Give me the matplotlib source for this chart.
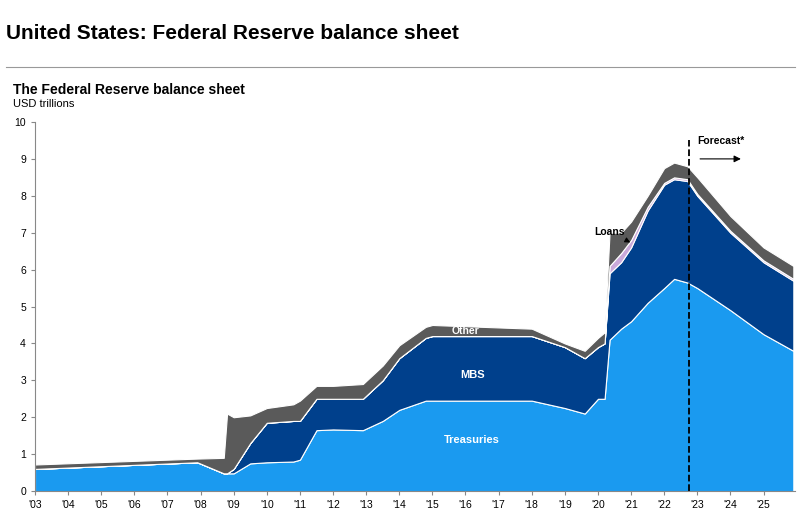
import numpy as np
import matplotlib.pyplot as plt

plt.rcParams['font.family'] = ['Liberation Sans', 'DejaVu Sans']

years = [2003.0, 2007.9, 2008.7, 2008.8, 2009.0, 2009.5, 2010.0, 2010.8, 2011.0, 2011.5,
         2012.0, 2012.9, 2013.5, 2014.0, 2014.8, 2015.0, 2018.0, 2019.0, 2019.6, 2020.0,
         2020.2, 2020.35, 2020.7, 2021.0, 2021.5, 2022.0, 2022.3, 2022.7, 2023.0, 2024.0,
         2025.0, 2025.9]
treasuries = [0.6, 0.78, 0.48, 0.48, 0.48, 0.75, 0.78, 0.8, 0.85, 1.65,
              1.67, 1.65, 1.9, 2.2, 2.45, 2.45, 2.45, 2.25, 2.1, 2.5,
              2.5, 4.1, 4.4, 4.6, 5.1, 5.5, 5.75, 5.65, 5.5, 4.9,
              4.25, 3.8]
mbs = [0, 0, 0, 0, 0.12, 0.55, 1.07, 1.1, 1.05, 0.85,
       0.83, 0.85, 1.1, 1.4, 1.7, 1.75, 1.75, 1.65, 1.5, 1.4,
       1.5, 1.8, 1.8, 2.0, 2.5, 2.8, 2.7, 2.75, 2.5, 2.1,
       1.95, 1.9]
loans = [0, 0, 0, 0, 0, 0, 0, 0, 0, 0,
         0, 0, 0, 0, 0, 0, 0, 0, 0, 0,
         0, 0.2, 0.25, 0.2, 0.1, 0.05, 0.05, 0.05, 0.05, 0.05,
         0.05, 0.05]
other = [0.12, 0.1, 0.42, 1.62, 1.4, 0.75, 0.4, 0.45, 0.55, 0.35,
         0.35, 0.4, 0.4, 0.35, 0.3, 0.3, 0.2, 0.1, 0.2, 0.25,
         0.3, 0.9, 0.55, 0.5, 0.3, 0.4, 0.4, 0.35, 0.45, 0.4,
         0.35, 0.35]
tick_years = list(range(2003, 2026))
tick_labels = ["'%02d" % (y % 100) for y in tick_years]
forecast_start = 2022.75

fig = plt.figure(figsize=(8.01, 5.18), dpi=100)
fig.text(0.008, 0.925, 'United States: Federal Reserve balance sheet', fontsize=15, fontweight='bold')
fig.add_artist(plt.Line2D([0.008, 0.992], [0.871, 0.871], color='#999999', lw=0.8))
fig.text(0.016, 0.818, 'The Federal Reserve balance sheet', fontsize=10, fontweight='bold')
fig.text(0.016, 0.793, 'USD trillions', fontsize=8)

ax = fig.add_axes([0.0437, 0.052, 0.9488, 0.7125])
ax.stackplot(years, treasuries, mbs, loans, other,
             colors=['#1A9AF0', '#00408C', '#C9A9DA', '#5A5A5A'],
             edgecolor='white', linewidth=0.8)
ax.set_xlim(2003, 2025.95)
ax.set_ylim(0, 10)
ax.set_yticks(range(0, 11))
ax.set_xticks(tick_years)
ax.set_xticklabels(tick_labels)
ax.tick_params(labelsize=7.5, length=3, color='#888888')
for s in ['top', 'right']:
    ax.spines[s].set_visible(False)
for s in ['left', 'bottom']:
    ax.spines[s].set_color('#888888')

ax.axvline(forecast_start, ymin=0, ymax=0.95, color='black', ls='--', lw=1.3)
ax.text(2023.0, 9.4, 'Forecast*', fontsize=7.5, fontweight='bold')
ax.annotate('', xy=(2024.4, 9.0), xytext=(2023.0, 9.0),
            arrowprops=dict(arrowstyle='-|>', color='black', lw=0.8))
ax.text(2016.2, 1.3, 'Treasuries', color='white', fontsize=8, fontweight='bold', ha='center')
ax.text(2016.2, 3.05, 'MBS', color='white', fontsize=8, fontweight='bold', ha='center')
ax.text(2016.0, 4.25, 'Other', color='white', fontsize=7.5, fontweight='bold', ha='center')
ax.annotate('Loans', xy=(2021.05, 6.7), xytext=(2019.9, 6.95), fontsize=7.5, fontweight='bold',
            arrowprops=dict(arrowstyle='-|>', color='black', lw=0.8))

fig.savefig('out.png', dpi=100)
